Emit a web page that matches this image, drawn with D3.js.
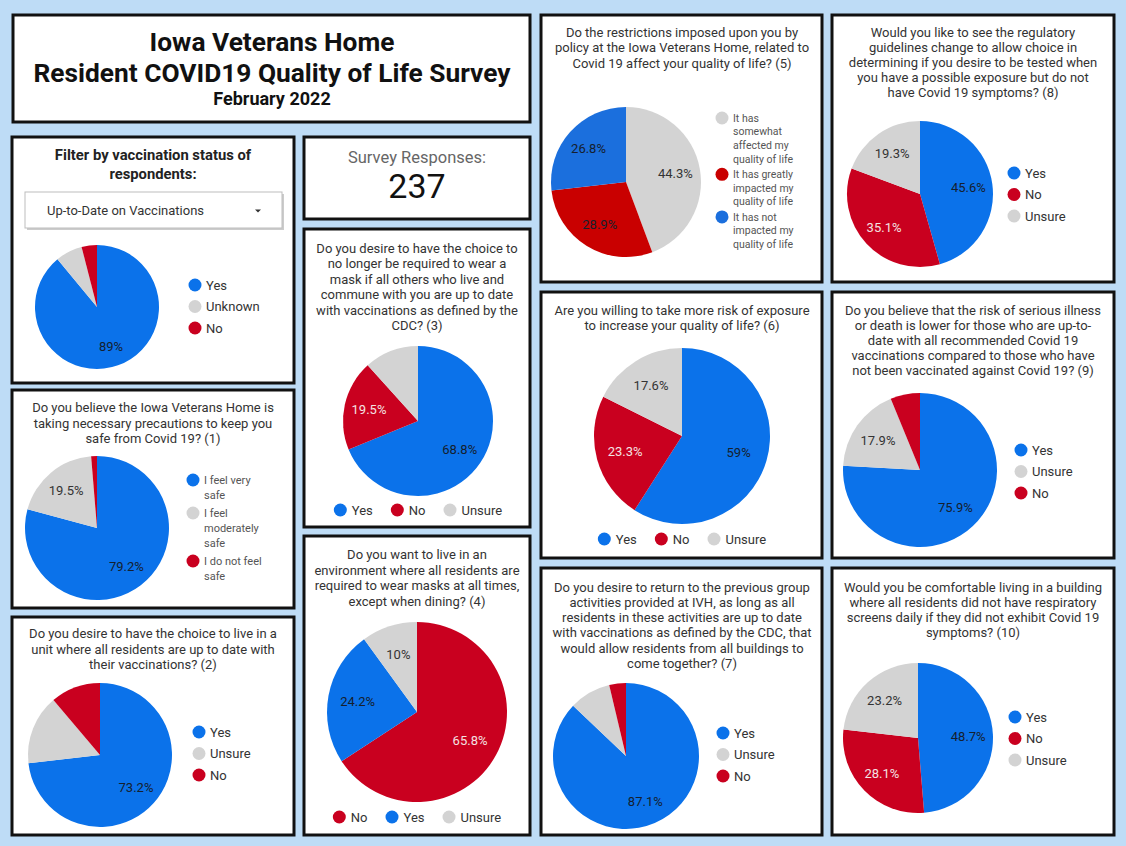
<!DOCTYPE html>
<html>
<head>
<meta charset="utf-8">
<script src="https://cdn.jsdelivr.net/npm/d3@7"></script>
<style>
  body { margin: 0; background: #bedcf6; }
  svg { display: block; font-family: Roboto, "Noto Sans", sans-serif; }
</style>
</head>
<body>
<div id="vis"></div>
<script>
// ---- data ----
var responses = 237;

var filterCats = ["Yes", "Unknown", "No"];
var filterVals = [89, 7, 4];
var filterShown = [0];

var q1Cats = ["I feel very\nsafe", "I feel\nmoderately\nsafe", "I do not feel\nsafe"];
var q1Vals = [79.2, 19.5, 1.3];
var q1Shown = [0, 1];

var q2Cats = ["Yes", "Unsure", "No"];
var q2Vals = [73.2, 15.6, 11.2];
var q2Shown = [0];

var q3Cats = ["Yes", "No", "Unsure"];
var q3Vals = [68.8, 19.5, 11.7];
var q3Shown = [0, 1];

var q4Cats = ["No", "Yes", "Unsure"];
var q4Vals = [65.8, 24.2, 10];
var q4Shown = [0, 1, 2];

var q5Cats = ["It has\nsomewhat\naffected my\nquality of life", "It has greatly\nimpacted my\nquality of life", "It has not\nimpacted my\nquality of life"];
var q5Vals = [44.3, 28.9, 26.8];
var q5Shown = [0, 1, 2];

var q6Cats = ["Yes", "No", "Unsure"];
var q6Vals = [59, 23.3, 17.6];
var q6Shown = [0, 1, 2];

var q7Cats = ["Yes", "Unsure", "No"];
var q7Vals = [87.1, 9.2, 3.7];
var q7Shown = [0];

var q8Cats = ["Yes", "No", "Unsure"];
var q8Vals = [45.6, 35.1, 19.3];
var q8Shown = [0, 1, 2];

var q9Cats = ["Yes", "Unsure", "No"];
var q9Vals = [75.9, 17.9, 6.2];
var q9Shown = [0, 1];

var q10Cats = ["Yes", "No", "Unsure"];
var q10Vals = [48.7, 28.1, 23.2];
var q10Shown = [0, 1, 2];

var q1Title = ["Do you believe the Iowa Veterans Home is", "taking necessary precautions to keep you", "safe from Covid 19? (1)"];
var q2Title = ["Do you desire to have the choice to live in a", "unit where all residents are up to date with", "their vaccinations? (2)"];
var q3Title = ["Do you desire to have the choice to", "no longer be required to wear a", "mask if all others who live and", "commune with you are up to date", "with vaccinations as defined by the", "CDC? (3)"];
var q4Title = ["Do you want to live in an", "environment where all residents are", "required to wear masks at all times,", "except when dining? (4)"];
var q5Title = ["Do the restrictions imposed upon you by", "policy at the Iowa Veterans Home, related to", "Covid 19 affect your quality of life? (5)"];
var q6Title = ["Are you willing to take more risk of exposure", "to increase your quality of life? (6)"];
var q7Title = ["Do you desire to return to the previous group", "activities provided at IVH, as long as all", "residents in these activities are up to date", "with vaccinations as defined by the CDC, that", "would allow residents from all buildings to", "come together? (7)"];
var q8Title = ["Would you like to see the regulatory", "guidelines change to allow choice in", "determining if you desire to be tested when", "you have a possible exposure but do not", "have Covid 19 symptoms? (8)"];
var q9Title = ["Do you believe that the risk of serious illness", "or death is lower for those who are up-to-", "date with all recommended Covid 19", "vaccinations compared to those who have", "not been vaccinated against Covid 19? (9)"];
var q10Title = ["Would you be comfortable living in a building", "where all residents did not have respiratory", "screens daily if they did not exhibit Covid 19", "symptoms? (10)"];

var BLUE = "#0b72ea", RED = "#c9001f", GRAY = "#d3d3d3";
var BLUE5 = "#1b6fdd", RED5 = "#c90000";

var width = 1126, height = 846;

var svg = d3.select("#vis").append("svg")
  .attr("width", width)
  .attr("height", height);

svg.append("rect").attr("width", width).attr("height", height).attr("fill", "#bedcf6");

function box(x, y, w, h) {
  svg.append("rect")
    .attr("x", x).attr("y", y).attr("width", w).attr("height", h)
    .attr("fill", "#fff")
    .attr("stroke", "#111")
    .attr("stroke-width", 3);
}

function title(lines, cx, y0, lh) {
  svg.append("g").selectAll("text")
    .data(lines)
    .enter().append("text")
      .attr("x", cx)
      .attr("y", function(d, i) { return y0 + i * lh; })
      .attr("text-anchor", "middle")
      .style("font-size", "13px")
      .style("fill", "#333")
      .text(function(d) { return d; });
}

function colorFor(cat, blue, red) {
  if (/^(Yes|I feel very|It has not)/.test(cat)) return blue;
  if (/^(No|I do not|It has greatly)/.test(cat)) return red;
  return GRAY;
}

// pie chart: starts at 12 o'clock, clockwise
function pie(cats, vals, shown, o) {
  var data = cats.map(function(c, i) { return {cat: c, v: vals[i], i: i}; });
  var arcs = d3.pie().sort(null).value(function(d) { return d.v; })(data);
  var arc = d3.arc().innerRadius(0).outerRadius(o.r);
  var larc = d3.arc().innerRadius(o.r * 0.67).outerRadius(o.r * 0.67);
  var blue = o.blue || BLUE, red = o.red || RED;

  var g = svg.append("g").attr("transform", "translate(" + o.cx + "," + o.cy + ")");
  g.selectAll("path")
    .data(arcs)
    .enter().append("path")
      .attr("d", arc)
      .attr("fill", function(d) { return colorFor(d.data.cat, blue, red); });

  g.selectAll("text")
    .data(arcs.filter(function(d) { return shown.indexOf(d.data.i) >= 0; }))
    .enter().append("text")
      .attr("transform", function(d) { return "translate(" + larc.centroid(d) + ")"; })
      .attr("text-anchor", "middle")
      .attr("dy", "0.35em")
      .style("font-size", "13px")
      .style("fill", function(d) {
        var c = colorFor(d.data.cat, blue, red);
        if (c === red && !o.darkOnRed) return "#f4e2e2";
        if (c === GRAY) return "#333";
        return "#15202e";
      })
      .text(function(d) { return d.data.v + "%"; });

  if (o.legend === "right") legendRight(cats, blue, red, o);
  else legendBottom(cats, blue, red, o);
}

function legendRight(cats, blue, red, o) {
  var lh = o.lh || 21.5, gap = o.gap || 0, fs = o.fs || 13;
  var y = o.ly;
  var g = svg.append("g");
  cats.forEach(function(c) {
    var lines = c.split("\n");
    g.append("circle")
      .attr("cx", o.lx).attr("cy", y).attr("r", 6.5)
      .attr("fill", colorFor(c, blue, red));
    var t = g.append("text")
      .attr("x", o.lx + 11).attr("y", y)
      .style("font-size", fs + "px")
      .style("fill", o.legendColor || "#333");
    lines.forEach(function(l, i) {
      t.append("tspan").attr("x", o.lx + 11).attr("dy", i === 0 ? "0.35em" : lh).text(l);
    });
    y += lines.length * lh + gap;
  });
}

function legendBottom(cats, blue, red, o) {
  var g = svg.append("g");
  var items = cats.map(function(c) {
    var it = g.append("g");
    it.append("circle").attr("r", 6.5).attr("cx", 6.5).attr("cy", 0)
      .attr("fill", colorFor(c, blue, red));
    var t = it.append("text").attr("x", 18).attr("dy", "0.35em")
      .style("font-size", "13px").style("fill", "#333").text(c);
    return {g: it, w: 18 + t.node().getComputedTextLength()};
  });
  var spacing = 18;
  var total = d3.sum(items, function(d) { return d.w; }) + spacing * (items.length - 1);
  var x = o.lcx - total / 2;
  items.forEach(function(d) {
    d.g.attr("transform", "translate(" + x + "," + o.ly + ")");
    x += d.w + spacing;
  });
}

// ---- header ----
box(13, 15, 517, 107);
svg.append("text").attr("x", 272).attr("y", 51).attr("text-anchor", "middle")
  .style("font-size", "26.3px").style("font-weight", "bold").style("fill", "#111")
  .text("Iowa Veterans Home");
svg.append("text").attr("x", 272).attr("y", 82).attr("text-anchor", "middle")
  .style("font-size", "26.3px").style("font-weight", "bold").style("fill", "#111")
  .text("Resident COVID19 Quality of Life Survey");
svg.append("text").attr("x", 272).attr("y", 105).attr("text-anchor", "middle")
  .style("font-size", "18px").style("font-weight", "bold").style("fill", "#111")
  .text("February 2022");

// ---- filter panel ----
box(12, 137, 282, 246);
svg.append("text").attr("x", 153).attr("y", 160).attr("text-anchor", "middle")
  .style("font-size", "14.8px").style("font-weight", "bold").style("fill", "#222")
  .text("Filter by vaccination status of");
svg.append("text").attr("x", 153).attr("y", 179).attr("text-anchor", "middle")
  .style("font-size", "14.8px").style("font-weight", "bold").style("fill", "#222")
  .text("respondents:");
svg.append("rect").attr("x", 27).attr("y", 194).attr("width", 257).attr("height", 36)
  .attr("fill", "#ccc");
svg.append("rect").attr("x", 25).attr("y", 192).attr("width", 257).attr("height", 36)
  .attr("fill", "#fff").attr("stroke", "#bdbdbd");
svg.append("text").attr("x", 47).attr("y", 215)
  .style("font-size", "13px").style("fill", "#333")
  .text("Up-to-Date on Vaccinations");
svg.append("path").attr("d", "M255,209.5h6l-3,3z").attr("fill", "#333");
pie(filterCats, filterVals, filterShown, {cx: 97, cy: 307, r: 62, legend: "right", lx: 195, ly: 285, lh: 21.5});

// ---- left column ----
box(12, 390, 282, 218);
title(q1Title, 153, 412, 15.5);
pie(q1Cats, q1Vals, q1Shown, {cx: 97, cy: 528, r: 72, legend: "right", lx: 193, ly: 480, lh: 15, gap: 3, fs: 11, legendColor: "#555"});

box(12, 617, 282, 218);
title(q2Title, 153, 638, 15.5);
pie(q2Cats, q2Vals, q2Shown, {cx: 100, cy: 755, r: 72, legend: "right", lx: 199, ly: 732, lh: 21.5});

// ---- middle column ----
box(304, 137, 226, 82);
svg.append("text").attr("x", 417).attr("y", 163).attr("text-anchor", "middle")
  .style("font-size", "16.5px").style("fill", "#666")
  .text("Survey Responses:");
svg.append("text").attr("x", 417).attr("y", 198).attr("text-anchor", "middle")
  .style("font-size", "34px").style("fill", "#111")
  .text(responses);

box(304, 229, 226, 298);
title(q3Title, 417, 252.5, 15.5);
pie(q3Cats, q3Vals, q3Shown, {cx: 418, cy: 421, r: 75, legend: "bottom", lcx: 418, ly: 510});

box(304, 536, 226, 299);
title(q4Title, 417, 559, 15.5);
pie(q4Cats, q4Vals, q4Shown, {cx: 417, cy: 712, r: 90, legend: "bottom", lcx: 417, ly: 817});

// ---- third column ----
box(541, 15, 281, 267);
title(q5Title, 682, 36.5, 15.5);
pie(q5Cats, q5Vals, q5Shown, {cx: 626, cy: 182, r: 75, blue: BLUE5, red: RED5, darkOnRed: true,
  legend: "right", lx: 722, ly: 118, lh: 13.7, gap: 1.5, fs: 10.5, legendColor: "#555"});

box(541, 292, 281, 266);
title(q6Title, 682, 314.5, 15.5);
pie(q6Cats, q6Vals, q6Shown, {cx: 682, cy: 436, r: 88, legend: "bottom", lcx: 682, ly: 539});

box(541, 568, 281, 267);
title(q7Title, 682, 591.5, 15.3);
pie(q7Cats, q7Vals, q7Shown, {cx: 626, cy: 756, r: 73, legend: "right", lx: 723, ly: 733, lh: 21.5});

// ---- right column ----
box(832, 15, 282, 267);
title(q8Title, 973, 36.5, 15.2);
pie(q8Cats, q8Vals, q8Shown, {cx: 920, cy: 194, r: 73, legend: "right", lx: 1014, ly: 173, lh: 21.5});

box(832, 292, 282, 266);
title(q9Title, 973, 314.5, 15);
pie(q9Cats, q9Vals, q9Shown, {cx: 920, cy: 470, r: 77, legend: "right", lx: 1021, ly: 450, lh: 21.5});

box(832, 568, 282, 267);
title(q10Title, 973, 591.5, 15);
pie(q10Cats, q10Vals, q10Shown, {cx: 918, cy: 738, r: 75, legend: "right", lx: 1015, ly: 717, lh: 21.5});
</script>
</body>
</html>
